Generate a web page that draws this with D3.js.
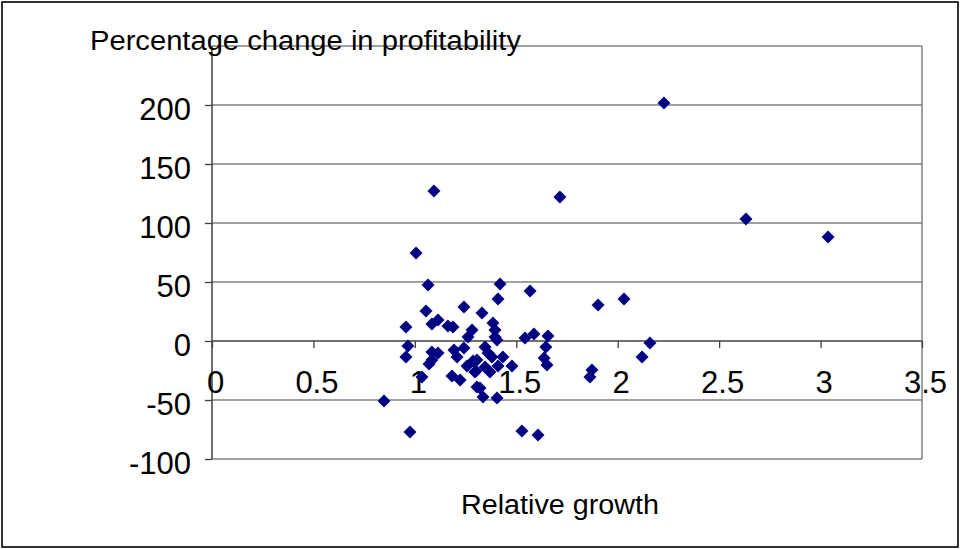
<!DOCTYPE html>
<html>
<head>
<meta charset="utf-8">
<script src="https://cdn.jsdelivr.net/npm/d3@7"></script>
<style>
  html, body { margin: 0; padding: 0; background: #fff; }
  svg { display: block; }
  text { font-family: "Liberation Sans", Arial, sans-serif; fill: #000; }
</style>
</head>
<body>
<svg id="chart" width="962" height="549"></svg>
<script>
// ---- data ----
const relativeGrowth = [
  1.006, 1.065, 1.420, 1.568, 1.410, 1.055, 1.242, 1.331, 0.956, 1.084,
  1.114, 1.163, 1.188, 1.282, 1.262, 1.385, 1.395, 1.395, 1.405, 1.543,
  1.587, 1.656, 1.646, 1.637, 1.651, 0.966, 0.956, 1.084, 1.114, 1.084,
  1.070, 1.193, 1.242, 1.208, 1.257, 1.287, 1.301, 1.306, 1.183, 1.223,
  1.035, 1.346, 1.361, 1.306, 1.296, 1.346, 1.370, 1.380, 1.434, 1.410,
  1.479, 1.321, 1.336, 1.405, 0.848, 0.976, 1.528, 1.607, 1.873, 1.863,
  1.903, 2.031, 2.159, 2.120, 1.094, 1.715, 2.228, 2.632, 3.037
];
const profitChange = [
  74.6, 47.5, 48.3, 42.4, 35.6, 25.4, 28.8, 23.7, 11.9, 14.4,
  17.8, 12.7, 11.9, 9.3, 3.4, 15.3, 9.3, 3.4, 0.8, 2.5,
  5.9, 4.2, -5.1, -14.4, -20.3, -4.2, -13.6, -9.3, -10.2, -16.1,
  -19.5, -7.6, -5.9, -13.6, -21.2, -16.9, -25.4, -39.0, -29.7, -33.1,
  -30.5, -5.1, -10.2, -16.1, -26.3, -22.0, -26.3, -13.6, -13.6, -21.2,
  -21.2, -39.8, -47.5, -48.3, -50.8, -77.1, -76.3, -79.7, -24.6, -30.5,
  30.5, 35.6, -1.7, -13.6, 127.1, 122.0, 201.7, 103.4, 88.1
];
const xTicks = [0, 0.5, 1, 1.5, 2, 2.5, 3, 3.5];
const yTicks = [-100, -50, 0, 50, 100, 150, 200];
const yGrid = [-100, -50, 50, 100, 150, 200, 250];
const xTitle = "Relative growth";
const yTitle = "Percentage change in profitability";

// ---- layout ----
const svg = d3.select("#chart");
const x = d3.scaleLinear().domain([0, 3.5]).range([212, 922]);
const y = d3.scaleLinear().domain([-100, 250]).range([459, 46]);

// outer border
svg.append("rect")
  .attr("x", 2).attr("y", 2).attr("width", 956).attr("height", 545)
  .attr("fill", "#fff").attr("stroke", "#000").attr("stroke-width", 1.6);

// gridlines
svg.append("g").selectAll("line").data(yGrid).join("line")
  .attr("x1", x(0)).attr("x2", x(3.5))
  .attr("y1", d => y(d)).attr("y2", d => y(d))
  .attr("stroke", "#808080").attr("stroke-width", 1.5);

// right border of plot area
svg.append("line")
  .attr("x1", x(3.5)).attr("x2", x(3.5))
  .attr("y1", y(250)).attr("y2", y(-100))
  .attr("stroke", "#808080").attr("stroke-width", 1.5);

// y axis
const yAxis = d3.axisLeft(y).tickValues(yTicks).tickSize(7).tickSizeOuter(0)
  .tickFormat(d => String(d));
const gy = svg.append("g").attr("transform", `translate(${x(0)},0)`).call(yAxis);
gy.select(".domain").attr("stroke", "#404040").attr("stroke-width", 1.5)
  .attr("d", `M0,${y(250)}V${y(-100)}`);
gy.selectAll(".tick line").attr("stroke", "#404040").attr("stroke-width", 1.3);
gy.selectAll(".tick text")
  .attr("x", -21).attr("dy", "0.47em")
  .style("font-size", "31px").style("font-family", '"Liberation Sans", Arial, sans-serif')
  .attr("fill", "#000");

// x axis at y = 0
const xAxis = d3.axisBottom(x).tickValues(xTicks).tickSize(7).tickSizeOuter(0)
  .tickFormat(d => String(d));
const gx = svg.append("g").attr("transform", `translate(0,${y(0)})`).call(xAxis);
gx.select(".domain").attr("stroke", "#404040").attr("stroke-width", 1.5)
  .attr("d", `M${x(0)},0H${x(3.5)}`);
gx.selectAll(".tick line").attr("stroke", "#404040").attr("stroke-width", 1.3);
gx.selectAll(".tick text")
  .attr("y", 52).attr("dy", 0).attr("dx", 3)
  .style("font-size", "31px").style("font-family", '"Liberation Sans", Arial, sans-serif')
  .attr("fill", "#000");

// points
const pts = relativeGrowth.map((g, i) => ({ g, p: profitChange[i] }));
const r = 6.5;
svg.append("g").selectAll("path").data(pts).join("path")
  .attr("transform", d => `translate(${x(d.g)},${y(d.p)})`)
  .attr("d", `M0,${-r}L${r},0L0,${r}L${-r},0Z`)
  .attr("fill", "#000080");

// titles
svg.append("text")
  .attr("x", 90).attr("y", 50)
  .attr("textLength", 431).attr("lengthAdjust", "spacingAndGlyphs")
  .style("font-size", "27px")
  .text(yTitle);

svg.append("text")
  .attr("x", 461).attr("y", 514)
  .attr("textLength", 198).attr("lengthAdjust", "spacingAndGlyphs")
  .style("font-size", "27px")
  .text(xTitle);
</script>
</body>
</html>
